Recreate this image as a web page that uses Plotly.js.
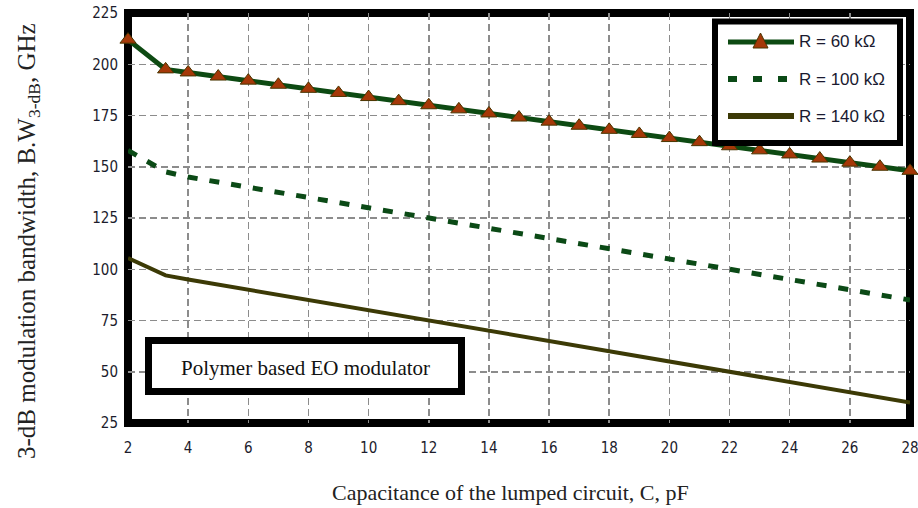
<!DOCTYPE html>
<html>
<head>
<meta charset="utf-8">
<script src="https://cdn.plot.ly/plotly-3.0.1.min.js"></script>
<style>
  html, body { margin: 0; padding: 0; background: #ffffff; }
  #chart { width: 918px; height: 508px; }
</style>
</head>
<body>
<div id="chart"></div>
<script>
// Lumped-circuit capacitance, pF
const capacitance = [2, 3.25, 4, 5, 6, 7, 8, 9, 10, 11, 12, 13, 14, 15, 16, 17, 18, 19, 20, 21, 22, 23, 24, 25, 26, 27, 28];

// 3-dB modulation bandwidth, GHz, for each load resistance
const bw60k  = [212, 197.5, 196, 194, 192, 190, 188, 186, 184, 182, 180, 178, 176, 174, 172, 170, 168, 166, 164, 162, 160, 158, 156, 154, 152, 150, 148];
const bw100k = [158, 147.5, 145, 142.5, 140, 137.5, 135, 132.5, 130, 127.5, 125, 122.5, 120, 117.5, 115, 112.5, 110, 107.5, 105, 102.5, 100, 97.5, 95, 92.5, 90, 87.5, 85];
const bw140k = [105.5, 97, 95, 92.5, 90, 87.5, 85, 82.5, 80, 77.5, 75, 72.5, 70, 67.5, 65, 62.5, 60, 57.5, 55, 52.5, 50, 47.5, 45, 42.5, 40, 37.5, 35];

const seriesNames = ['R = 60 kΩ', 'R = 100 kΩ', 'R = 140 kΩ'];
const xTickVals = [2, 4, 6, 8, 10, 12, 14, 16, 18, 20, 22, 24, 26, 28];
const yTickVals = [25, 50, 75, 100, 125, 150, 175, 200, 225];

const xTitle = 'Capacitance of the lumped circuit, C, pF';
const yTitle = '3-dB modulation bandwidth, B.W<sub>3-dB</sub>, GHz';
const noteText = 'Polymer based EO modulator';

// Colours
const green60 = '#0d4a12';
const green100 = '#0b4a16';
const olive140 = '#3c3a06';
const markerFill = '#a53808';
const markerEdge = '#4a3500';

// Page geometry helpers: pixel position -> paper fraction
const W = 918, H = 508;
const M = { l: 128, r: 8, t: 13, b: 85 };
const plotW = W - M.l - M.r, plotH = H - M.t - M.b;
const px = x => (x - M.l) / plotW;
const py = y => (H - M.b - y) / plotH;

const traces = [
  {
    x: capacitance, y: bw140k, name: seriesNames[2], type: 'scatter', mode: 'lines',
    line: { color: olive140, width: 4 }, cliponaxis: false
  },
  {
    x: capacitance, y: bw100k, name: seriesNames[1], type: 'scatter', mode: 'lines',
    line: { color: green100, width: 5, dash: '10px,12px' }, cliponaxis: false
  },
  {
    x: capacitance, y: bw60k, name: seriesNames[0], type: 'scatter', mode: 'lines+markers',
    line: { color: green60, width: 5 },
    marker: { symbol: 'triangle-up', size: 14, color: markerFill, line: { color: markerEdge, width: 1 } },
    cliponaxis: false
  }
];

const legendRows = [42, 79, 116];
const shapes = [
  // heavy frame round the plot area
  { type: 'rect', xref: 'paper', yref: 'paper', x0: 0, x1: 1, y0: 0, y1: 1,
    line: { color: '#000', width: 8 }, fillcolor: 'rgba(0,0,0,0)', layer: 'below' },
  // legend box
  { type: 'rect', xref: 'paper', yref: 'paper', x0: px(715), x1: px(900), y0: py(143), y1: py(21.5),
    line: { color: '#000', width: 6 }, fillcolor: '#fff', layer: 'above' },
  { type: 'line', xref: 'paper', yref: 'paper', x0: px(728), x1: px(794), y0: py(legendRows[0]), y1: py(legendRows[0]),
    line: { color: green60, width: 5 }, layer: 'above' },
  { type: 'path', xref: 'paper', yref: 'paper',
    path: `M ${px(753)} ${py(48)} L ${px(760.5)} ${py(33)} L ${px(768)} ${py(48)} Z`,
    fillcolor: markerFill, line: { color: markerEdge, width: 1 }, layer: 'above' },
  { type: 'line', xref: 'paper', yref: 'paper', x0: px(728), x1: px(794), y0: py(legendRows[1]), y1: py(legendRows[1]),
    line: { color: green100, width: 6, dash: '9px,16px' }, layer: 'above' },
  { type: 'line', xref: 'paper', yref: 'paper', x0: px(728), x1: px(794), y0: py(legendRows[2]), y1: py(legendRows[2]),
    line: { color: olive140, width: 6 }, layer: 'above' },
  // note box
  { type: 'rect', xref: 'paper', yref: 'paper', x0: px(148.5), x1: px(461.5), y0: py(391.5), y1: py(340.5),
    line: { color: '#000', width: 7 }, fillcolor: '#fff', layer: 'above' }
];

const legendFont = { family: 'Liberation Sans, Arial, sans-serif', size: 17, color: '#1a1a30' };
const annotations = seriesNames.map((name, i) => ({
  xref: 'paper', yref: 'paper', x: px(797), y: py(legendRows[i]), xanchor: 'left', yanchor: 'middle',
  text: name, showarrow: false, font: legendFont
}));
annotations.push(
  { xref: 'paper', yref: 'paper', x: px(305), y: py(368), xanchor: 'center', yanchor: 'middle',
    text: noteText, showarrow: false, font: { family: 'Liberation Serif, Times New Roman, serif', size: 21, color: '#111' } },
  { xref: 'paper', yref: 'paper', x: px(510), y: py(493), xanchor: 'center', yanchor: 'middle',
    text: xTitle, showarrow: false, font: { family: 'Liberation Serif, Times New Roman, serif', size: 22, color: '#222' } },
  { xref: 'paper', yref: 'paper', x: px(28), y: py(241), xanchor: 'center', yanchor: 'middle', textangle: -90,
    text: yTitle, showarrow: false, font: { family: 'Liberation Serif, Times New Roman, serif', size: 25, color: '#222' } }
);

const tickFont = { family: 'Liberation Sans Narrow, Arial Narrow, DejaVu Sans Condensed, sans-serif', size: 15, color: '#1c1c2c' };

// dashed grey grid on both axes
const gridStyle = { showgrid: true, gridcolor: '#8c8c8c', gridwidth: 1.5, griddash: '7px,4px' };

const layout = {
  width: W, height: H,
  margin: M,
  paper_bgcolor: '#fff', plot_bgcolor: '#fff',
  showlegend: false,
  xaxis: Object.assign({
    range: [2, 28], tickmode: 'array', tickvals: xTickVals, ticktext: xTickVals.map(String),
    zeroline: false, showline: false, ticks: '', tickfont: tickFont, ticklabelstandoff: 14,
    ticklabeloverflow: 'allow'
  }, gridStyle),
  yaxis: Object.assign({
    range: [25, 225], tickmode: 'array', tickvals: yTickVals, ticktext: yTickVals.map(String),
    zeroline: false, showline: false, ticks: '', tickfont: tickFont, ticklabelstandoff: 9,
    ticklabeloverflow: 'allow'
  }, gridStyle),
  shapes: shapes,
  annotations: annotations
};

Plotly.newPlot('chart', traces, layout, { displayModeBar: false, staticPlot: true });
</script>
</body>
</html>
